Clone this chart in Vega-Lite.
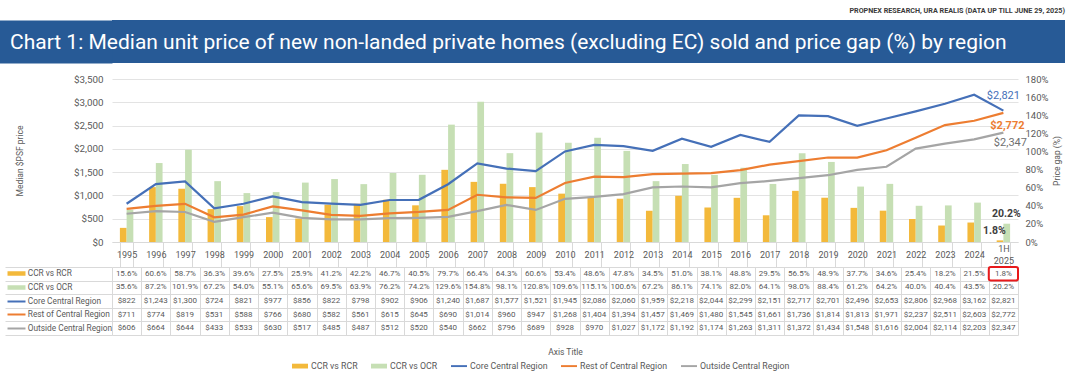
{
  "$schema": "https://vega.github.io/schema/vega-lite/v6.json",
  "padding": {"left": 4, "top": 6, "right": 5, "bottom": 2},
  "background": "white",
  "title": {"text": "PROPNEX RESEARCH, URA REALIS (DATA UP TILL JUNE 29, 2025)", "anchor": "end", "fontSize": 7.2, "font": "Roboto", "fontWeight": "bold", "color": "#3a3a3a", "offset": 6},
  "config": {
    "view": {"stroke": null},
    "font": "Roboto",
    "axis": {"labelFont": "Roboto", "titleFont": "Roboto"},
    "legend": {"labelFont": "Roboto"},
    "text": {"font": "Roboto"}
  },
  "datasets": {
    "gap": [
      {"year": "1995", "series": "CCR vs RCR", "gap": 0.156}, {"year": "1995", "series": "CCR vs OCR", "gap": 0.356},
      {"year": "1996", "series": "CCR vs RCR", "gap": 0.606}, {"year": "1996", "series": "CCR vs OCR", "gap": 0.872},
      {"year": "1997", "series": "CCR vs RCR", "gap": 0.587}, {"year": "1997", "series": "CCR vs OCR", "gap": 1.019},
      {"year": "1998", "series": "CCR vs RCR", "gap": 0.363}, {"year": "1998", "series": "CCR vs OCR", "gap": 0.672},
      {"year": "1999", "series": "CCR vs RCR", "gap": 0.396}, {"year": "1999", "series": "CCR vs OCR", "gap": 0.540},
      {"year": "2000", "series": "CCR vs RCR", "gap": 0.275}, {"year": "2000", "series": "CCR vs OCR", "gap": 0.551},
      {"year": "2001", "series": "CCR vs RCR", "gap": 0.259}, {"year": "2001", "series": "CCR vs OCR", "gap": 0.656},
      {"year": "2002", "series": "CCR vs RCR", "gap": 0.412}, {"year": "2002", "series": "CCR vs OCR", "gap": 0.695},
      {"year": "2003", "series": "CCR vs RCR", "gap": 0.422}, {"year": "2003", "series": "CCR vs OCR", "gap": 0.639},
      {"year": "2004", "series": "CCR vs RCR", "gap": 0.467}, {"year": "2004", "series": "CCR vs OCR", "gap": 0.762},
      {"year": "2005", "series": "CCR vs RCR", "gap": 0.405}, {"year": "2005", "series": "CCR vs OCR", "gap": 0.742},
      {"year": "2006", "series": "CCR vs RCR", "gap": 0.797}, {"year": "2006", "series": "CCR vs OCR", "gap": 1.296},
      {"year": "2007", "series": "CCR vs RCR", "gap": 0.664}, {"year": "2007", "series": "CCR vs OCR", "gap": 1.548},
      {"year": "2008", "series": "CCR vs RCR", "gap": 0.643}, {"year": "2008", "series": "CCR vs OCR", "gap": 0.981},
      {"year": "2009", "series": "CCR vs RCR", "gap": 0.606}, {"year": "2009", "series": "CCR vs OCR", "gap": 1.208},
      {"year": "2010", "series": "CCR vs RCR", "gap": 0.534}, {"year": "2010", "series": "CCR vs OCR", "gap": 1.096},
      {"year": "2011", "series": "CCR vs RCR", "gap": 0.486}, {"year": "2011", "series": "CCR vs OCR", "gap": 1.151},
      {"year": "2012", "series": "CCR vs RCR", "gap": 0.478}, {"year": "2012", "series": "CCR vs OCR", "gap": 1.006},
      {"year": "2013", "series": "CCR vs RCR", "gap": 0.345}, {"year": "2013", "series": "CCR vs OCR", "gap": 0.672},
      {"year": "2014", "series": "CCR vs RCR", "gap": 0.510}, {"year": "2014", "series": "CCR vs OCR", "gap": 0.861},
      {"year": "2015", "series": "CCR vs RCR", "gap": 0.381}, {"year": "2015", "series": "CCR vs OCR", "gap": 0.741},
      {"year": "2016", "series": "CCR vs RCR", "gap": 0.488}, {"year": "2016", "series": "CCR vs OCR", "gap": 0.820},
      {"year": "2017", "series": "CCR vs RCR", "gap": 0.295}, {"year": "2017", "series": "CCR vs OCR", "gap": 0.641},
      {"year": "2018", "series": "CCR vs RCR", "gap": 0.565}, {"year": "2018", "series": "CCR vs OCR", "gap": 0.980},
      {"year": "2019", "series": "CCR vs RCR", "gap": 0.489}, {"year": "2019", "series": "CCR vs OCR", "gap": 0.884},
      {"year": "2020", "series": "CCR vs RCR", "gap": 0.377}, {"year": "2020", "series": "CCR vs OCR", "gap": 0.612},
      {"year": "2021", "series": "CCR vs RCR", "gap": 0.346}, {"year": "2021", "series": "CCR vs OCR", "gap": 0.642},
      {"year": "2022", "series": "CCR vs RCR", "gap": 0.254}, {"year": "2022", "series": "CCR vs OCR", "gap": 0.400},
      {"year": "2023", "series": "CCR vs RCR", "gap": 0.182}, {"year": "2023", "series": "CCR vs OCR", "gap": 0.404},
      {"year": "2024", "series": "CCR vs RCR", "gap": 0.215}, {"year": "2024", "series": "CCR vs OCR", "gap": 0.435},
      {"year": "1H 2025", "series": "CCR vs RCR", "gap": 0.018}, {"year": "1H 2025", "series": "CCR vs OCR", "gap": 0.202}
    ],
    "price": [
      {"year": "1995", "series": "Core Central Region", "price": 822}, {"year": "1995", "series": "Rest of Central Region", "price": 711}, {"year": "1995", "series": "Outside Central Region", "price": 606},
      {"year": "1996", "series": "Core Central Region", "price": 1243}, {"year": "1996", "series": "Rest of Central Region", "price": 774}, {"year": "1996", "series": "Outside Central Region", "price": 664},
      {"year": "1997", "series": "Core Central Region", "price": 1300}, {"year": "1997", "series": "Rest of Central Region", "price": 819}, {"year": "1997", "series": "Outside Central Region", "price": 644},
      {"year": "1998", "series": "Core Central Region", "price": 724}, {"year": "1998", "series": "Rest of Central Region", "price": 531}, {"year": "1998", "series": "Outside Central Region", "price": 433},
      {"year": "1999", "series": "Core Central Region", "price": 821}, {"year": "1999", "series": "Rest of Central Region", "price": 588}, {"year": "1999", "series": "Outside Central Region", "price": 533},
      {"year": "2000", "series": "Core Central Region", "price": 977}, {"year": "2000", "series": "Rest of Central Region", "price": 766}, {"year": "2000", "series": "Outside Central Region", "price": 630},
      {"year": "2001", "series": "Core Central Region", "price": 856}, {"year": "2001", "series": "Rest of Central Region", "price": 680}, {"year": "2001", "series": "Outside Central Region", "price": 517},
      {"year": "2002", "series": "Core Central Region", "price": 822}, {"year": "2002", "series": "Rest of Central Region", "price": 582}, {"year": "2002", "series": "Outside Central Region", "price": 485},
      {"year": "2003", "series": "Core Central Region", "price": 798}, {"year": "2003", "series": "Rest of Central Region", "price": 561}, {"year": "2003", "series": "Outside Central Region", "price": 487},
      {"year": "2004", "series": "Core Central Region", "price": 902}, {"year": "2004", "series": "Rest of Central Region", "price": 615}, {"year": "2004", "series": "Outside Central Region", "price": 512},
      {"year": "2005", "series": "Core Central Region", "price": 906}, {"year": "2005", "series": "Rest of Central Region", "price": 645}, {"year": "2005", "series": "Outside Central Region", "price": 520},
      {"year": "2006", "series": "Core Central Region", "price": 1240}, {"year": "2006", "series": "Rest of Central Region", "price": 690}, {"year": "2006", "series": "Outside Central Region", "price": 540},
      {"year": "2007", "series": "Core Central Region", "price": 1687}, {"year": "2007", "series": "Rest of Central Region", "price": 1014}, {"year": "2007", "series": "Outside Central Region", "price": 662},
      {"year": "2008", "series": "Core Central Region", "price": 1577}, {"year": "2008", "series": "Rest of Central Region", "price": 960}, {"year": "2008", "series": "Outside Central Region", "price": 796},
      {"year": "2009", "series": "Core Central Region", "price": 1521}, {"year": "2009", "series": "Rest of Central Region", "price": 947}, {"year": "2009", "series": "Outside Central Region", "price": 689},
      {"year": "2010", "series": "Core Central Region", "price": 1945}, {"year": "2010", "series": "Rest of Central Region", "price": 1268}, {"year": "2010", "series": "Outside Central Region", "price": 928},
      {"year": "2011", "series": "Core Central Region", "price": 2086}, {"year": "2011", "series": "Rest of Central Region", "price": 1404}, {"year": "2011", "series": "Outside Central Region", "price": 970},
      {"year": "2012", "series": "Core Central Region", "price": 2060}, {"year": "2012", "series": "Rest of Central Region", "price": 1394}, {"year": "2012", "series": "Outside Central Region", "price": 1027},
      {"year": "2013", "series": "Core Central Region", "price": 1959}, {"year": "2013", "series": "Rest of Central Region", "price": 1457}, {"year": "2013", "series": "Outside Central Region", "price": 1172},
      {"year": "2014", "series": "Core Central Region", "price": 2218}, {"year": "2014", "series": "Rest of Central Region", "price": 1469}, {"year": "2014", "series": "Outside Central Region", "price": 1192},
      {"year": "2015", "series": "Core Central Region", "price": 2044}, {"year": "2015", "series": "Rest of Central Region", "price": 1480}, {"year": "2015", "series": "Outside Central Region", "price": 1174},
      {"year": "2016", "series": "Core Central Region", "price": 2299}, {"year": "2016", "series": "Rest of Central Region", "price": 1545}, {"year": "2016", "series": "Outside Central Region", "price": 1263},
      {"year": "2017", "series": "Core Central Region", "price": 2151}, {"year": "2017", "series": "Rest of Central Region", "price": 1661}, {"year": "2017", "series": "Outside Central Region", "price": 1311},
      {"year": "2018", "series": "Core Central Region", "price": 2717}, {"year": "2018", "series": "Rest of Central Region", "price": 1736}, {"year": "2018", "series": "Outside Central Region", "price": 1372},
      {"year": "2019", "series": "Core Central Region", "price": 2701}, {"year": "2019", "series": "Rest of Central Region", "price": 1814}, {"year": "2019", "series": "Outside Central Region", "price": 1434},
      {"year": "2020", "series": "Core Central Region", "price": 2496}, {"year": "2020", "series": "Rest of Central Region", "price": 1813}, {"year": "2020", "series": "Outside Central Region", "price": 1548},
      {"year": "2021", "series": "Core Central Region", "price": 2653}, {"year": "2021", "series": "Rest of Central Region", "price": 1971}, {"year": "2021", "series": "Outside Central Region", "price": 1616},
      {"year": "2022", "series": "Core Central Region", "price": 2806}, {"year": "2022", "series": "Rest of Central Region", "price": 2237}, {"year": "2022", "series": "Outside Central Region", "price": 2004},
      {"year": "2023", "series": "Core Central Region", "price": 2968}, {"year": "2023", "series": "Rest of Central Region", "price": 2511}, {"year": "2023", "series": "Outside Central Region", "price": 2114},
      {"year": "2024", "series": "Core Central Region", "price": 3162}, {"year": "2024", "series": "Rest of Central Region", "price": 2603}, {"year": "2024", "series": "Outside Central Region", "price": 2203},
      {"year": "1H 2025", "series": "Core Central Region", "price": 2821}, {"year": "1H 2025", "series": "Rest of Central Region", "price": 2772}, {"year": "1H 2025", "series": "Outside Central Region", "price": 2347}
    ],
    "highlight": [{"year": "1H 2025", "series": "CCR vs RCR"}],
    "banner": [{"t": "", "v": 0}]
  },
  "spacing": 11,
  "vconcat": [
    {
      "width": 953,
      "height": 43,
      "view": {"fill": "#275a96", "stroke": null},
      "data": {"name": "banner"},
      "mark": {"type": "text"},
      "encoding": {
        "text": {"field": "t"},
        "y": {"field": "v", "type": "quantitative", "title": null,
          "axis": {"orient": "left", "offset": 59, "domain": true, "domainWidth": 118, "domainColor": "#275a96", "domainCap": "butt", "labels": false, "ticks": false, "grid": false}}
      },
      "title": {"text": "Chart 1: Median unit price of new non-landed private homes (excluding EC) sold and price gap (%) by region", "anchor": "start", "frame": "group", "orient": "top", "offset": -33, "dx": -102, "fontSize": 21, "font": "Roboto", "fontWeight": "normal", "color": "#ffffff"}
    },
    {
      "spacing": 25,
      "bounds": "flush",
      "resolve": {"scale": {"x": "independent", "y": "independent"}},
      "vconcat": [
        {
          "width": 906,
          "height": 163,
          "resolve": {"scale": {"y": "independent"}},
          "layer": [
            {
              "data": {"name": "gap"},
              "layer": [
                {
                  "mark": {"type": "bar"},
                  "encoding": {
                    "x": {"field": "year", "type": "nominal", "sort": null, "title": null,
                      "scale": {"domain": ["1995","1996","1997","1998","1999","2000","2001","2002","2003","2004","2005","2006","2007","2008","2009","2010","2011","2012","2013","2014","2015","2016","2017","2018","2019","2020","2021","2022","2023","2024","1H 2025"], "paddingInner": 0.54, "paddingOuter": 0.27},
                      "axis": {"orient": "bottom", "labelExpr": "split(datum.label, ' ')", "labelAngle": 0, "tickBand": "extent", "ticks": true, "tickSize": 25, "tickColor": "#d9d9d9", "domain": true, "domainColor": "#d9d9d9",
                        "labelPadding": {"condition": {"test": "datum.value == '1H 2025'", "value": -18.4}, "value": -12.6},
                        "labelBaseline": "middle", "labelFontSize": 9, "labelColor": "#595959", "labelLineHeight": 11.5, "grid": false, "labelFlush": false, "labelOverlap": false}},
                    "xOffset": {"field": "series", "type": "nominal", "scale": {"domain": ["CCR vs RCR", "CCR vs OCR"]}},
                    "y": {"field": "gap", "type": "quantitative", "title": "Price gap (%)",
                      "scale": {"domain": [0, 1.8], "nice": false},
                      "axis": {"orient": "right", "values": [0, 0.2, 0.4, 0.6, 0.8, 1.0, 1.2, 1.4, 1.6, 1.8], "tickCount": 20, "format": ".0%", "grid": false, "ticks": false, "domain": false, "labelOverlap": false, "labelPadding": 7, "labelColor": "#595959", "labelFontSize": 9.5, "titleFontSize": 8.5, "titleColor": "#595959", "titleFontWeight": "normal", "titleAngle": 270, "titleBaseline": "top", "titlePadding": 5}},
                    "color": {"field": "series", "type": "nominal",
                      "scale": {"domain": ["CCR vs RCR", "CCR vs OCR", "Core Central Region", "Rest of Central Region", "Outside Central Region"], "range": ["#f3b93b", "#c6dfb4", "#4570b8", "#ed7d31", "#a5a5a5"]},
                      "legend": {"orient": "none", "legendX": 180, "legendY": 338, "direction": "horizontal", "title": null, "symbolType": "M-1,-0.3H1V0.3H-1Z", "symbolSize": 256, "labelFontSize": 8.8, "labelColor": "#595959", "labelOffset": 3, "columnPadding": 13, "symbolStrokeWidth": 0, "symbolOpacity": 1,
                        "encode": {"symbols": {"update": {"shape": {"signal": "(datum.value == 'CCR vs RCR' || datum.value == 'CCR vs OCR') ? 'M-1,-0.3H1V0.3H-1Z' : 'M-1,-0.12H1V0.12H-1Z'"}, "fill": {"signal": "scale('color', datum.value)"}, "strokeWidth": {"value": 0}, "opacity": {"value": 1}}}}}}
                  }
                },
                {
                  "transform": [{"filter": "datum.year == '1H 2025' && datum.series == 'CCR vs OCR'"}],
                  "mark": {"type": "text", "dx": 3, "dy": -10, "fontWeight": "bold", "fontSize": 10.5, "color": "#404040"},
                  "encoding": {
                    "x": {"field": "year", "type": "nominal", "sort": null, "title": null},
                    "y": {"field": "gap", "type": "quantitative", "title": "Price gap (%)"},
                    "text": {"field": "gap", "format": ".1%"}
                  }
                },
                {
                  "transform": [{"filter": "datum.year == '1H 2025' && datum.series == 'CCR vs RCR'"}],
                  "mark": {"type": "text", "dx": -9, "dy": -9, "fontWeight": "bold", "fontSize": 10.5, "color": "#404040"},
                  "encoding": {
                    "x": {"field": "year", "type": "nominal", "sort": null, "title": null},
                    "y": {"field": "gap", "type": "quantitative", "title": "Price gap (%)"},
                    "text": {"field": "gap", "format": ".1%"}
                  }
                }
              ]
            },
            {
              "data": {"name": "price"},
              "layer": [
                {
                  "mark": {"type": "line", "strokeWidth": 2.2},
                  "encoding": {
                    "x": {"field": "year", "type": "nominal", "sort": null, "title": null},
                    "y": {"field": "price", "type": "quantitative", "title": "Median $PSF price",
                      "scale": {"domain": [0, 3500], "nice": false},
                      "axis": {"orient": "left", "values": [0, 500, 1000, 1500, 2000, 2500, 3000, 3500], "tickCount": 20, "format": "$,.0f", "grid": true, "gridColor": "#e3e3e3", "ticks": false, "domain": false, "labelOverlap": false, "labelColor": "#595959", "labelFontSize": 9.8, "labelPadding": 9, "titleFontSize": 8.5, "titleColor": "#595959", "titleFontWeight": "normal", "titlePadding": 49}},
                    "color": {"field": "series", "type": "nominal"}
                  }
                },
                {
                  "transform": [{"filter": "datum.year == '1H 2025' && datum.series == 'Core Central Region'"}],
                  "mark": {"type": "text", "dy": -15, "fontSize": 11, "color": "#4570b8"},
                  "encoding": {
                    "x": {"field": "year", "type": "nominal", "sort": null, "title": null},
                    "y": {"field": "price", "type": "quantitative", "title": "Median $PSF price"},
                    "text": {"field": "price", "format": "$,.0f"}
                  }
                },
                {
                  "transform": [{"filter": "datum.year == '1H 2025' && datum.series == 'Rest of Central Region'"}],
                  "mark": {"type": "text", "dx": 4, "dy": 13, "fontSize": 11, "fontWeight": "bold", "color": "#ed7d31"},
                  "encoding": {
                    "x": {"field": "year", "type": "nominal", "sort": null, "title": null},
                    "y": {"field": "price", "type": "quantitative", "title": "Median $PSF price"},
                    "text": {"field": "price", "format": "$,.0f"}
                  }
                },
                {
                  "transform": [{"filter": "datum.year == '1H 2025' && datum.series == 'Outside Central Region'"}],
                  "mark": {"type": "text", "dx": 7, "dy": 10, "fontSize": 11, "color": "#6f6f6f"},
                  "encoding": {
                    "x": {"field": "year", "type": "nominal", "sort": null, "title": null},
                    "y": {"field": "price", "type": "quantitative", "title": "Median $PSF price"},
                    "text": {"field": "price", "format": "$,.0f"}
                  }
                }
              ]
            }
          ]
        },
        {
          "width": 906,
          "height": 68,
          "resolve": {"scale": {"y": "independent"}},
          "layer": [
            {
              "layer": [
                {
                  "data": {"name": "gap"},
                  "mark": {"type": "text", "fontSize": 8, "color": "#595959"},
                  "encoding": {
                    "x": {"field": "year", "type": "nominal", "sort": null, "title": "Axis Title",
                      "scale": {"domain": ["1995","1996","1997","1998","1999","2000","2001","2002","2003","2004","2005","2006","2007","2008","2009","2010","2011","2012","2013","2014","2015","2016","2017","2018","2019","2020","2021","2022","2023","2024","1H 2025"], "padding": 0},
                      "axis": {"orient": "bottom", "labels": false, "ticks": false, "domain": false, "grid": true, "tickBand": "extent", "gridColor": "#d9d9d9", "titleColor": "#595959", "titleFontSize": 8.5, "titleFontWeight": "normal", "titlePadding": 12}},
                    "y": {"field": "series", "type": "nominal", "title": null,
                      "scale": {"domain": ["CCR vs RCR", "CCR vs OCR", "Core Central Region", "Rest of Central Region", "Outside Central Region"], "padding": 0},
                      "axis": {"orient": "left", "grid": true, "tickBand": "extent", "gridColor": "#d9d9d9", "ticks": true, "tickSize": 107, "tickColor": "#d9d9d9", "domain": false, "labelAlign": "left", "labelPadding": -22.3, "labelBaseline": "middle", "labelFontSize": 8.3, "labelColor": "#595959", "labelOverlap": false}},
                    "text": {"field": "gap", "format": ".1%"}
                  }
                },
                {
                  "data": {"name": "price"},
                  "mark": {"type": "text", "fontSize": 8, "color": "#595959"},
                  "encoding": {
                    "x": {"field": "year", "type": "nominal", "sort": null, "title": "Axis Title"},
                    "y": {"field": "series", "type": "nominal", "title": null},
                    "text": {"field": "price", "format": "$,.0f"}
                  }
                }
              ]
            },
            {
              "data": {"name": "highlight"},
              "mark": {"type": "rect", "filled": false, "stroke": "#e8191b", "strokeWidth": 2, "cornerRadius": 2},
              "encoding": {
                "x": {"field": "year", "type": "nominal", "sort": null, "title": "Axis Title"},
                "y": {"field": "series", "type": "nominal", "title": null,
                  "scale": {"domain": ["CCR vs RCR", "CCR vs OCR", "Core Central Region", "Rest of Central Region", "Outside Central Region"], "padding": 0},
                  "axis": {"orient": "left", "offset": 87, "labels": false, "domain": false, "grid": false, "ticks": true, "tickSize": 18,
                    "tickWidth": {"condition": {"test": "datum.value == 'CCR vs RCR' || datum.value == 'CCR vs OCR'", "value": 4.5}, "value": 2},
                    "tickColor": {"condition": [{"test": "datum.value == 'CCR vs RCR'", "value": "#f3b93b"}, {"test": "datum.value == 'CCR vs OCR'", "value": "#c6dfb4"}, {"test": "datum.value == 'Core Central Region'", "value": "#4570b8"}, {"test": "datum.value == 'Rest of Central Region'", "value": "#ed7d31"}], "value": "#a5a5a5"}}}
              }
            }
          ]
        }
      ]
    }
  ]
}
